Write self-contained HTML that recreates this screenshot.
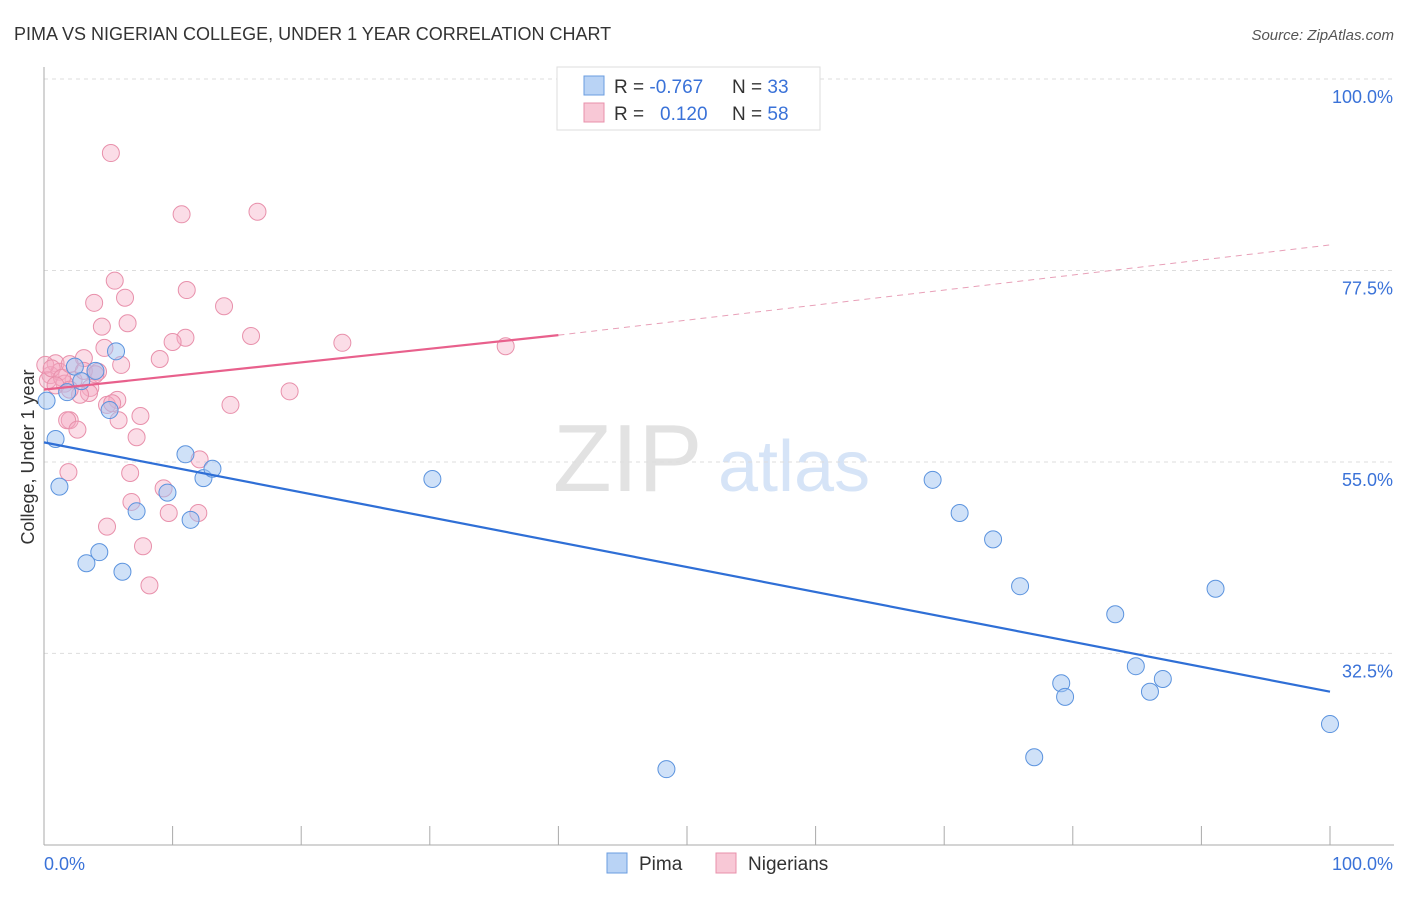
<!DOCTYPE html>
<html><head><meta charset="utf-8"><style>
body{margin:0;background:#fff;font-family:"Liberation Sans",sans-serif}
svg text{font-family:"Liberation Sans",sans-serif}
</style></head><body>
<svg id="chart" width="1406" height="892" viewBox="0 0 1406 892">
<text x="14" y="40" font-size="18" fill="#333">PIMA VS NIGERIAN COLLEGE, UNDER 1 YEAR CORRELATION CHART</text>
<text x="1394" y="40" font-size="15" fill="#555" text-anchor="end" font-style="italic">Source: ZipAtlas.com</text>
<g>
<text x="553" y="491" font-size="96" font-family="Liberation Serif,serif" fill="#e2e2e2">ZIP</text>
<text x="718" y="491" font-size="72" fill="#d6e4f7">atlas</text>
</g>
<g id="grid"></g>
<g id="axes"></g>
<g id="marks"></g>
<text transform="translate(34,457) rotate(-90)" font-size="18" fill="#333" text-anchor="middle">College, Under 1 year</text>
<g>
<rect x="557" y="67" width="263" height="63" fill="#fff" stroke="#ddd"/>
<rect x="584" y="76" width="20" height="19" fill="#b9d3f5" stroke="#6a9de0"/>
<rect x="584" y="103" width="20" height="19" fill="#f8c8d6" stroke="#e890ab"/>
<text x="614" y="93" font-size="19" fill="#333">R = <tspan fill="#3a72d8">-0.767</tspan><tspan x="732">N = </tspan><tspan fill="#3a72d8">33</tspan></text>
<text x="614" y="120" font-size="19" fill="#333">R = <tspan x="660" fill="#3a72d8">0.120</tspan><tspan x="732">N = </tspan><tspan fill="#3a72d8">58</tspan></text>
</g>
<g>
<rect x="607" y="853" width="20" height="20" fill="#b9d3f5" stroke="#6a9de0"/>
<text x="639" y="870" font-size="19" fill="#333">Pima</text>
<rect x="716" y="853" width="20" height="20" fill="#f8c8d6" stroke="#e890ab"/>
<text x="748" y="870" font-size="19" fill="#333">Nigerians</text>
</g>
</svg>
<script>
const yTicks=[100,77.5,55,32.5];
const yTickLabels=["100.0%","77.5%","55.0%","32.5%"];
const xEndLabels=["0.0%","100.0%"];
const pimaX=[0.2,0.9,1.2,1.8,2.4,2.9,3.3,4.3,4.0,5.1,5.6,6.1,7.2,9.6,11.0,11.4,12.4,13.1,30.2,48.4,69.1,71.2,73.8,75.9,77.0,79.1,79.4,83.3,84.9,86.0,87.0,91.1,100];
const pimaY=[62.2,57.7,52.1,63.2,66.2,64.5,43.1,44.4,65.7,61.1,68.0,42.1,49.2,51.4,55.9,48.2,53.1,54.2,53.0,18.9,52.9,49.0,45.9,40.4,20.3,29.0,27.4,37.1,31.0,28.0,29.5,40.1,24.2];
const nigX=[5.2,10.7,16.6,5.5,6.3,3.9,11.1,14.0,4.5,6.5,16.1,11.0,10.0,23.2,35.9,4.7,9.0,6.0,3.1,0.9,0.5,1.2,4.2,2.3,1.6,3.6,3.5,2.8,5.7,4.9,14.5,19.1,7.5,5.8,2.0,1.8,2.6,7.2,1.9,6.7,6.8,9.3,12.1,4.9,9.7,12.0,7.7,8.2,0.1,0.3,0.6,1.4,0.9,2.0,3.1,4.0,5.3,2.0];
const nigY=[91.3,84.1,84.4,76.3,74.3,73.7,75.2,73.3,70.9,71.3,69.8,69.6,69.1,69.0,68.6,68.4,67.1,66.4,67.2,66.6,65.2,65.6,65.6,64.6,64.2,63.7,63.1,62.9,62.3,61.7,61.7,63.3,60.4,59.9,59.9,59.9,58.8,57.9,53.8,53.7,50.3,51.9,55.3,47.4,49.0,49.0,45.1,40.5,66.4,64.6,66.0,64.9,64.0,66.5,65.7,65.3,61.9,63.5];
const pimaTrend=[57.3,28.0];
const nigTrend=[63.5,69.9,80.5];
const X=v=>44+v*12.86, Y=v=>79+(100-v)*8.51;
const NS="http://www.w3.org/2000/svg";
function mk(t,a,p){const e=document.createElementNS(NS,t);for(const k in a)e.setAttribute(k,a[k]);p.appendChild(e);return e;}
const grid=document.getElementById('grid'),axes=document.getElementById('axes'),marks=document.getElementById('marks');
yTicks.forEach((t,i)=>{
 const l=mk('line',{x1:44,x2:1394,y1:Y(t),y2:Y(t),stroke:'#ddd','stroke-dasharray':'4 4'},grid);
 
 
 const tx=mk('text',{x:1393,y:Y(t)+24,'font-size':18,fill:'#3a72d8','text-anchor':'end'},axes);
 tx.textContent=yTickLabels[i];
 
 
});
const ya=mk('line',{x1:44,x2:44,y1:67,y2:845,stroke:'#aaa'},axes);


const xa=mk('line',{x1:44,x2:1394,y1:845,y2:845,stroke:'#aaa'},axes);


for(let i=0;i<=10;i++){
 const tk=mk('line',{x1:X(i*10),x2:X(i*10),y1:826,y2:845,stroke:'#aaa'},axes);
 
 
}
const xl0=mk('text',{x:44,y:870,'font-size':18,fill:'#3a72d8'},axes);xl0.textContent=xEndLabels[0];


const xl1=mk('text',{x:1393,y:870,'font-size':18,fill:'#3a72d8','text-anchor':'end'},axes);xl1.textContent=xEndLabels[1];


nigX.forEach((x,i)=>{
 const c=mk('circle',{cx:X(x),cy:Y(nigY[i]),r:8.5,fill:'rgba(244,170,195,0.4)',stroke:'#e890ab','stroke-width':1},marks);
 
 
});
pimaX.forEach((x,i)=>{
 const c=mk('circle',{cx:X(x),cy:Y(pimaY[i]),r:8.5,fill:'rgba(160,195,242,0.5)',stroke:'#5b93de','stroke-width':1},marks);
 
 
});
const pt=mk('line',{x1:X(0),y1:Y(pimaTrend[0]),x2:X(100),y2:Y(pimaTrend[1]),stroke:'#2f6fd6','stroke-width':2.2},marks);


const nt=mk('line',{x1:X(0),y1:Y(nigTrend[0]),x2:X(40),y2:Y(nigTrend[1]),stroke:'#e8608c','stroke-width':2.2},marks);


const nd=mk('line',{x1:X(40),y1:Y(nigTrend[1]),x2:X(100),y2:Y(nigTrend[2]),stroke:'#e8a0b8','stroke-width':1,'stroke-dasharray':'6 5'},marks);


</script>
</body></html>
